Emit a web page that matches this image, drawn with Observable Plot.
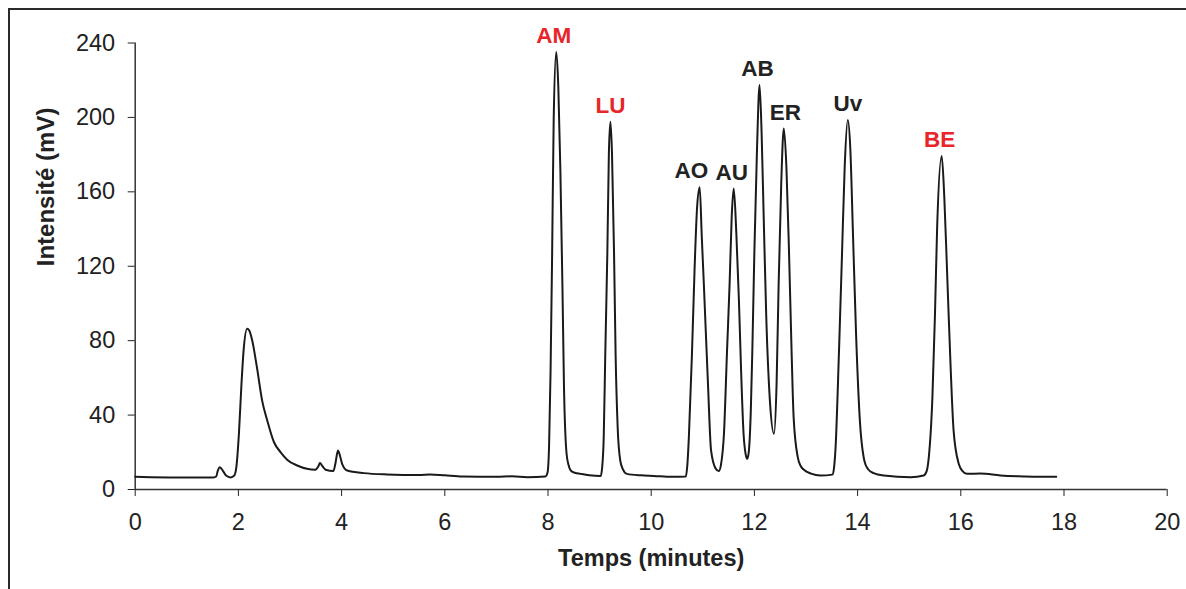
<!DOCTYPE html>
<html><head><meta charset="utf-8">
<script src="https://cdn.jsdelivr.net/npm/d3@7"></script>
<script src="https://cdn.jsdelivr.net/npm/@observablehq/plot@0.6"></script>
<style>
html,body{margin:0;padding:0;background:#fff;overflow:hidden;width:1186px;height:589px;}
#frame{position:absolute;left:8px;top:8px;width:1200px;height:600px;border-top:2px solid #2a2a2a;border-left:2px solid #2a2a2a;}
#chart{position:absolute;left:0;top:0;}
</style></head><body>
<div id="frame"></div>
<div id="chart"></div>
<script>
// Chromatogram trace (time in minutes, intensity in mV)
const times = [
  0.00, 0.30, 1.00, 1.50, 1.57, 1.60, 1.64, 1.70, 1.76, 1.85, 1.92, 1.96, 2.01, 2.06, 2.10, 2.17, 2.21, 2.27,
  2.36, 2.46, 2.56, 2.69, 2.82, 2.95, 3.14, 3.33, 3.49, 3.55, 3.58, 3.63, 3.69, 3.84, 3.88, 3.93, 3.97, 4.01,
  4.11, 4.43, 4.88, 5.50, 5.72, 6.00, 6.35, 7.00, 7.30, 7.60, 7.95,
  7.99, 8.02, 8.05, 8.08, 8.11, 8.16, 8.20, 8.24, 8.28, 8.31, 8.36, 8.40, 8.44, 8.52, 8.63, 8.80, 9.02,
  9.05, 9.08, 9.11, 9.15, 9.18, 9.21, 9.24, 9.28, 9.31, 9.35, 9.40, 9.45, 9.53, 9.80, 10.05, 10.40, 10.67,
  10.70, 10.73, 10.79, 10.84, 10.89, 10.94, 10.98, 11.02, 11.10, 11.16, 11.25, 11.31,
  11.35, 11.41, 11.47, 11.52, 11.56, 11.60, 11.65, 11.70, 11.74, 11.79, 11.83, 11.86,
  11.89, 11.93, 11.96, 12.00, 12.05, 12.10, 12.14, 12.18, 12.23, 12.30, 12.38,
  12.43, 12.47, 12.52, 12.57, 12.62, 12.67, 12.72, 12.76, 12.84, 12.90, 12.96, 13.10, 13.28, 13.51,
  13.54, 13.57, 13.64, 13.70, 13.75, 13.81, 13.86, 13.91, 13.97, 14.04, 14.13, 14.20, 14.31, 14.51, 15.03, 15.28,
  15.34, 15.38, 15.45, 15.50, 15.54, 15.63, 15.68, 15.74, 15.80, 15.86, 15.96, 16.03, 16.12, 16.38, 16.77, 17.20, 17.50, 17.85
];
const intensities = [
  6.8, 6.6, 6.4, 6.4, 7.0, 10, 12, 10, 7.5, 6.5, 7.5, 12, 30, 57, 74.5, 86.4, 85.5, 79.8,
  65.5, 47.8, 37, 25.4, 20, 15.9, 12.9, 11.1, 10.6, 12.5, 14.2, 12.5, 10.6, 9.9, 14, 21, 18, 13.8,
  10.2, 8.8, 8.1, 7.8, 8.1, 7.6, 7.0, 6.8, 7.1, 6.6, 7.0,
  9, 22.6, 64, 126.6, 198.4, 235.1, 216.3, 171.5, 108.8, 55, 19.2, 13, 10.2, 9, 8.4, 7.6, 7.2,
  12, 28, 73, 127, 181, 197.7, 181, 127, 73, 33.5, 15.6, 11, 8.4, 7.6, 7.3, 6.8, 7.0,
  13, 28, 73, 117.9, 152, 162.5, 136, 110.6, 57, 21, 11.2, 9.9,
  13, 30, 74.8, 110.8, 146.6, 161.8, 137.6, 101.7, 65.8, 30, 19, 16.5,
  20, 42, 74.8, 128.6, 182.5, 217.4, 191.4, 146.6, 92.7, 47.9, 30,
  56.9, 110.7, 164.5, 194.1, 173.5, 128.6, 74.8, 38.9, 17.4, 12.5, 10.6, 8.5, 7.5, 8.0,
  11, 21, 74.8, 128.6, 173.5, 198.6, 182.5, 137.6, 83.8, 38.9, 15.6, 11, 8.8, 7.5, 6.6, 7.5,
  10, 17.4, 49.7, 94.6, 139.4, 179.2, 157.3, 112.5, 67.7, 31.8, 13.8, 10, 8.4, 8.6, 7.5, 7.0, 6.8, 6.8
];

// Peak labels
const peakNames = ["AM", "LU", "AO", "AU", "AB", "ER", "Uv", "BE"];
const peakLabelTimes = [8.11, 9.21, 10.78, 11.56, 12.06, 12.60, 13.81, 15.59];
const peakHeights = [235.1, 197.7, 162.5, 161.8, 217.4, 194.1, 198.6, 179.2];
const highlightedPeaks = ["AM", "LU", "BE"];

const xTicks = [0, 2, 4, 6, 8, 10, 12, 14, 16, 18, 20];
const yTicks = [0, 40, 80, 120, 160, 200, 240];
const xTitle = "Temps (minutes)";
const yTitle = "Intensité (mV)";

const trace = times.map((t, i) => ({t, v: intensities[i]}));
const labels = peakNames.map((name, i) => ({name, t: peakLabelTimes[i], v: peakHeights[i]}));
const redLabels = labels.filter(d => highlightedPeaks.includes(d.name));
const blackLabels = labels.filter(d => !highlightedPeaks.includes(d.name));

const chart = Plot.plot({
  width: 1186, height: 589,
  marginLeft: 134.7, marginRight: 19.3, marginTop: 42.5, marginBottom: 100,
  style: {fontFamily: "'Liberation Sans', Arial, sans-serif", fontSize: "23.5px", color: "#222", background: "transparent", overflow: "visible"},
  x: {domain: [0, 20], ticks: xTicks, tickSize: 7, tickPadding: 17, label: null, tickFormat: d => String(d)},
  y: {domain: [0, 240], ticks: yTicks, tickSize: 7, tickPadding: 13, label: null, tickFormat: d => String(d)},
  marks: [
    Plot.ruleY([0], {stroke: "#333", strokeWidth: 1.5}),
    Plot.ruleX([0], {stroke: "#333", strokeWidth: 1.5}),
    Plot.line(trace, {x: "t", y: "v", stroke: "#1a1a1a", strokeWidth: 2, curve: "monotone-x"}),
    Plot.text(redLabels, {x: "t", y: "v", text: "name", fill: "#e8262a", dy: -16, fontWeight: "bold", fontSize: 22.5}),
    Plot.text(blackLabels, {x: "t", y: "v", text: "name", fill: "#222", dy: -16, fontWeight: "bold", fontSize: 22.5}),
    Plot.text([xTitle], {frameAnchor: "bottom", dy: 76, fontWeight: "bold", fontSize: 23.5, fill: "#222"}),
    Plot.text([yTitle], {frameAnchor: "left", dx: -89, rotate: -90, fontWeight: "bold", fontSize: 24, fill: "#222"})
  ]
});
document.getElementById("chart").appendChild(chart);
</script>
</body></html>
